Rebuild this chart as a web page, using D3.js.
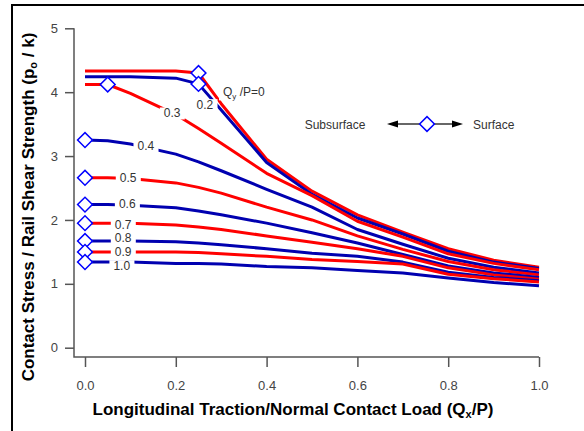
<!DOCTYPE html>
<html>
<head>
<meta charset="utf-8">
<script src="https://cdn.jsdelivr.net/npm/d3@7"></script>
<style>
  body { margin: 0; background: #fff; }
  svg { display: block; font-family: "Liberation Sans", Arial, sans-serif; }
</style>
</head>
<body>
<div id="chart"></div>
<script>
// Qx/P sample points shared by all curves
const qx = [0, 0.05, 0.1, 0.2, 0.25, 0.3, 0.4, 0.5, 0.6, 0.7, 0.8, 0.9, 1.0];

// Qy/P values, one curve each
const qyLevels = ['0', '0.2', '0.3', '0.4', '0.5', '0.6', '0.7', '0.8', '0.9', '1.0'];

const stress = [
  [4.33, 4.33, 4.33, 4.33, 4.30, 3.82, 2.95, 2.45, 2.08, 1.81, 1.55, 1.37, 1.26],
  [4.24, 4.24, 4.24, 4.22, 4.13, 3.72, 2.90, 2.40, 2.03, 1.78, 1.51, 1.34, 1.24],
  [4.12, 4.12, 3.98, 3.65, 3.43, 3.20, 2.73, 2.38, 1.98, 1.73, 1.47, 1.32, 1.22],
  [3.25, 3.24, 3.19, 3.03, 2.91, 2.77, 2.48, 2.20, 1.85, 1.62, 1.40, 1.26, 1.17],
  [2.66, 2.66, 2.65, 2.58, 2.51, 2.42, 2.20, 2.00, 1.75, 1.54, 1.35, 1.22, 1.14],
  [2.24, 2.24, 2.23, 2.19, 2.14, 2.08, 1.95, 1.80, 1.64, 1.46, 1.28, 1.17, 1.10],
  [1.95, 1.95, 1.95, 1.92, 1.89, 1.85, 1.75, 1.65, 1.55, 1.43, 1.25, 1.14, 1.07],
  [1.67, 1.67, 1.67, 1.66, 1.64, 1.61, 1.55, 1.48, 1.43, 1.34, 1.18, 1.10, 1.05],
  [1.50, 1.50, 1.50, 1.50, 1.49, 1.47, 1.43, 1.38, 1.35, 1.31, 1.15, 1.08, 1.03],
  [1.34, 1.34, 1.34, 1.32, 1.32, 1.31, 1.27, 1.25, 1.21, 1.17, 1.09, 1.02, 0.97]
];

// Qx/P where the maximum moves from subsurface to surface
const transitionQx = [0.25, 0.25, 0.05, 0, 0, 0, 0, 0, 0, 0];

const xTicks = [0, 0.2, 0.4, 0.6, 0.8, 1.0];
const yTicks = [0, 1, 2, 3, 4, 5];

const colors = ['#ff0000', '#0000b0'];

const W = 584, H = 431;
const svg = d3.select('#chart').append('svg')
  .attr('width', W)
  .attr('height', H);

// outer frame
svg.append('rect')
  .attr('x', 12).attr('y', 5)
  .attr('width', 620).attr('height', 460)
  .attr('fill', 'none')
  .attr('stroke', '#000')
  .attr('stroke-width', 2);

const x = d3.scaleLinear().domain([0, 1]).range([85, 539]);
const y = d3.scaleLinear().domain([0, 5]).range([347.7, 28.3]);
const axisX = 74, axisY = 357;

// axes
const gx = svg.append('g')
  .attr('transform', `translate(0,${axisY})`)
  .call(d3.axisBottom(x).tickValues(xTicks).tickFormat(d3.format('.1f')).tickSize(10).tickSizeOuter(0).tickPadding(14));
const gy = svg.append('g')
  .attr('transform', `translate(${axisX},0)`)
  .call(d3.axisLeft(y).tickValues(yTicks).tickFormat(d3.format('d')).tickSize(9).tickSizeOuter(0).tickPadding(7));
[gx, gy].forEach(g => {
  g.select('.domain').remove();
  g.selectAll('line').attr('stroke', '#555').attr('stroke-width', 1.5);
  g.selectAll('text').attr('fill', '#444').attr('font-size', 13)
    .attr('font-family', '"Liberation Sans", Arial, sans-serif');
});
svg.append('path')
  .attr('d', `M${axisX},${y(5)}V${axisY}H${x(1)}`)
  .attr('fill', 'none')
  .attr('stroke', '#555')
  .attr('stroke-width', 1.5);

// curves
const line = d3.line()
  .x((d, i) => x(qx[i]))
  .y(d => y(d));

svg.append('g').selectAll('path')
  .data(stress)
  .join('path')
  .attr('d', line)
  .attr('fill', 'none')
  .attr('stroke', (d, i) => colors[i % 2])
  .attr('stroke-width', 3)
  .attr('stroke-linejoin', 'round');

// curve labels (anchor in data units)
const labelSpots = [
  [0.304, 4.00], [0.264, 3.80], [0.192, 3.67], [0.134, 3.16], [0.095, 2.66],
  [0.093, 2.26], [0.084, 1.93], [0.084, 1.72], [0.084, 1.50], [0.081, 1.28]
];
const labels = svg.append('g').attr('font-size', 12).attr('fill', '#333');
qyLevels.forEach((lvl, i) => {
  const [lx, ly] = labelSpots[i];
  const g = labels.append('g');
  const bg = g.append('rect').attr('fill', '#fff');
  const t = g.append('text')
    .attr('x', x(lx)).attr('y', y(ly))
    .attr('dy', '0.35em');
  if (i === 0) {
    t.attr('text-anchor', 'start');
    t.append('tspan').text('Q');
    t.append('tspan').attr('font-size', 8).attr('dy', 3).text('y');
    t.append('tspan').attr('dy', -3).text(' /P=0');
  } else {
    t.attr('text-anchor', 'middle').text(lvl);
  }
  const bb = t.node().getBBox();
  bg.attr('x', bb.x - 4).attr('y', bb.y + 1)
    .attr('width', bb.width + 8).attr('height', bb.height - 2);
});

// transition markers
const diamond = d3.symbol(d3.symbolSquare, 110);
svg.append('g').selectAll('path')
  .data(transitionQx)
  .join('path')
  .attr('d', diamond)
  .attr('transform', (d, i) => {
    const k = qx.indexOf(d);
    return `translate(${x(d)},${y(stress[i][k])}) rotate(45)`;
  })
  .attr('fill', '#fff')
  .attr('stroke', '#0000ff')
  .attr('stroke-width', 1.5);

// legend
const leg = svg.append('g').attr('font-size', 12).attr('fill', '#333');
leg.append('text').attr('x', 335).attr('y', 125).attr('dy', '0.35em')
  .attr('text-anchor', 'middle').text('Subsurface');
leg.append('text').attr('x', 473).attr('y', 125).attr('dy', '0.35em')
  .text('Surface');
leg.append('line').attr('x1', 395).attr('x2', 420).attr('y1', 124).attr('y2', 124)
  .attr('stroke', '#000').attr('stroke-width', 1.2);
leg.append('line').attr('x1', 434).attr('x2', 456).attr('y1', 124).attr('y2', 124)
  .attr('stroke', '#000').attr('stroke-width', 1.2);
leg.append('path').attr('d', 'M387,124L398,120.5L398,127.5Z').attr('fill', '#000');
leg.append('path').attr('d', 'M463,124L452,120.5L452,127.5Z').attr('fill', '#000');
leg.append('path').attr('d', diamond)
  .attr('transform', 'translate(427,124) rotate(45)')
  .attr('fill', '#fff').attr('stroke', '#0000ff').attr('stroke-width', 1.5);

// axis titles
const xt = svg.append('text')
  .attr('x', 293).attr('y', 415)
  .attr('text-anchor', 'middle')
  .attr('font-size', 17).attr('font-weight', 'bold').attr('fill', '#000');
xt.append('tspan').text('Longitudinal Traction/Normal Contact Load (Q');
xt.append('tspan').attr('font-size', 11).attr('dy', 3).text('x');
xt.append('tspan').attr('dy', -3).text('/P)');

const yt = svg.append('text')
  .attr('transform', 'translate(34,207) rotate(-90)')
  .attr('text-anchor', 'middle')
  .attr('font-size', 17).attr('font-weight', 'bold').attr('fill', '#000');
yt.append('tspan').text('Contact Stress / Rail Shear Strength (p');
yt.append('tspan').attr('font-size', 11).attr('dy', 3).text('o');
yt.append('tspan').attr('dy', -3).text(' / k)');
</script>
</body>
</html>
